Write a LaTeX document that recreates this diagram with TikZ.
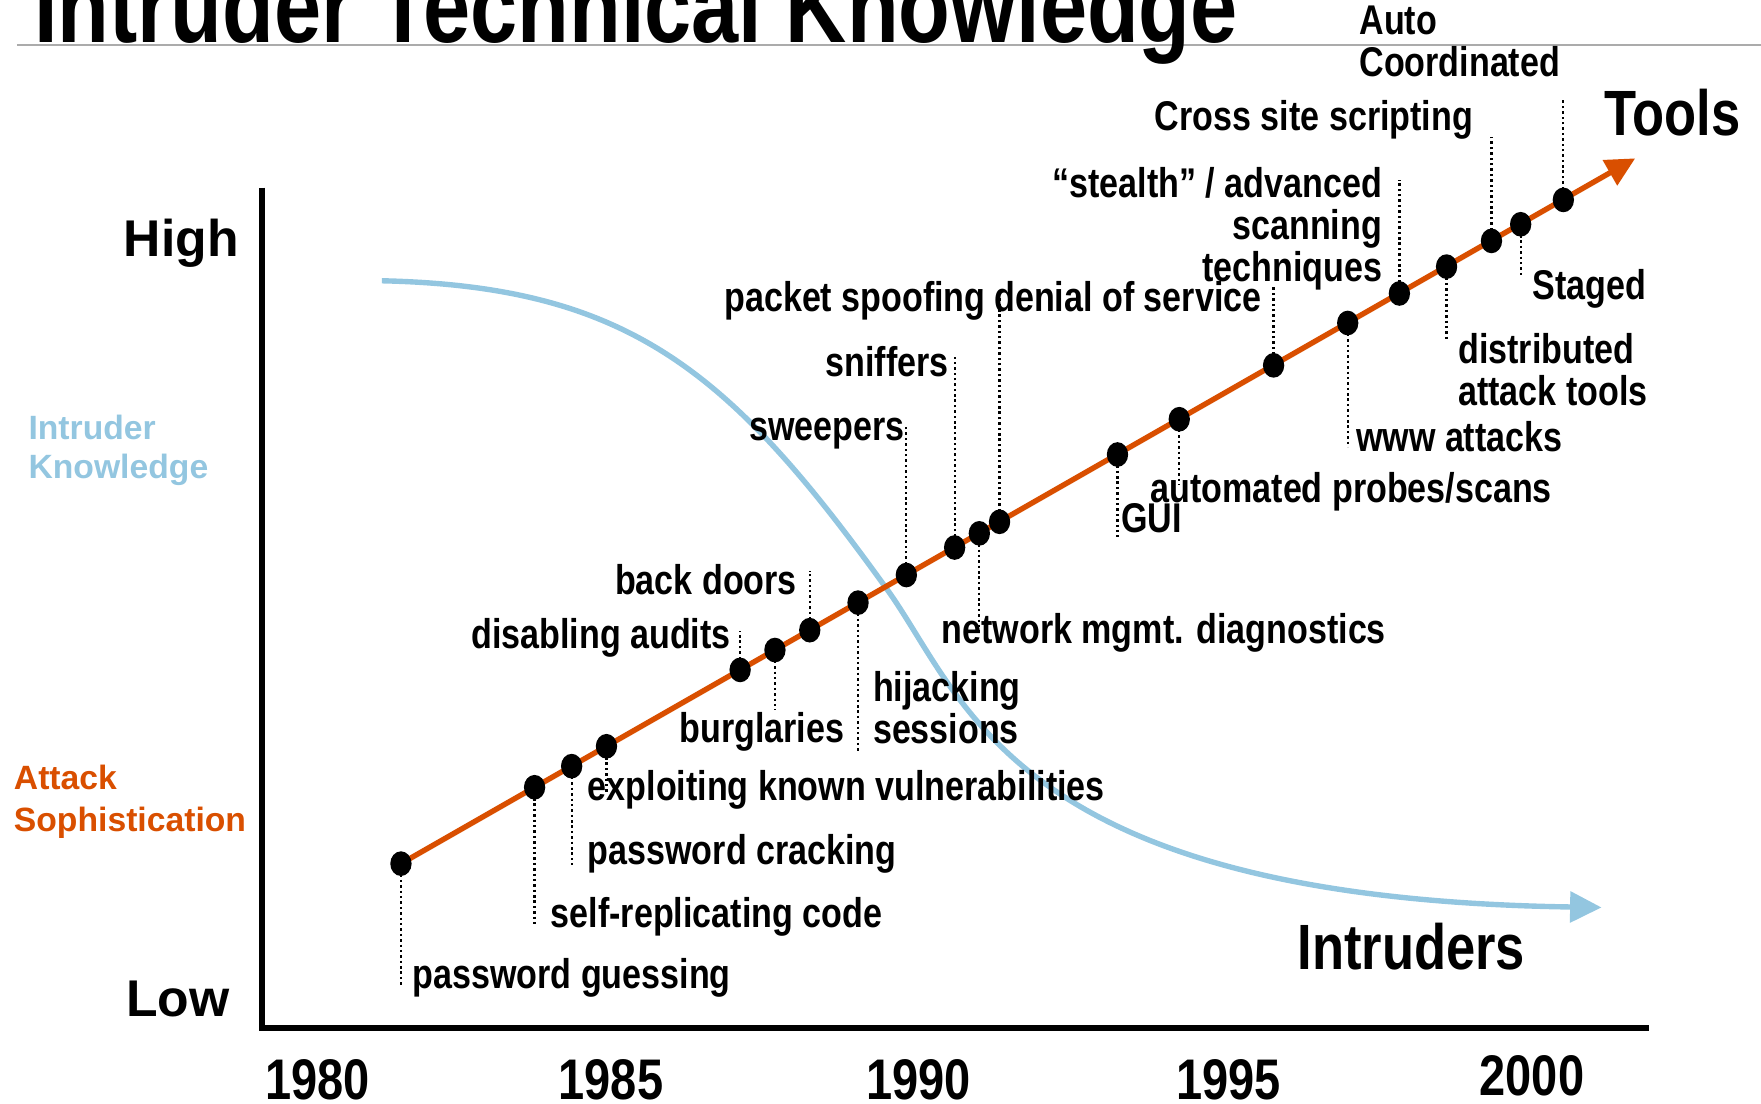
\documentclass[tikz,border=0pt]{standalone}
\usepackage{fontspec}
\setmainfont{Liberation Sans}
\newfontfamily\narrowfont[FakeStretch=0.82]{Liberation Sans}
\usetikzlibrary{arrows.meta,shapes.geometric,backgrounds}
\definecolor{atkorange}{HTML}{D94F00}
\definecolor{knowblue}{HTML}{93C6E0}
\definecolor{rulegray}{HTML}{ABABAB}

\begin{document}
\begin{tikzpicture}[
      x=0.5pt,y=-0.5pt,
      evt/.style={ellipse,fill=black,inner sep=0pt,minimum width=9.5pt,minimum height=11pt},
      lbl/.style={inner sep=0pt,font=\narrowfont\bfseries\fontsize{18.5}{18.7}\selectfont},
      big/.style={inner sep=0pt,font=\narrowfont\bfseries\fontsize{28.5}{28.5}\selectfont},
      yr/.style={inner sep=0pt,anchor=base,font=\narrowfont\bfseries\fontsize{25.5}{25.5}\selectfont},
      lvl/.style={inner sep=0pt,anchor=base west,font=\bfseries\fontsize{23}{23}\selectfont},
      leg/.style={inner sep=0pt,anchor=base west,align=left,font=\bfseries\fontsize{15}{18}\selectfont},
      lead/.style={line width=1pt,dash pattern=on 1.1pt off 1.3pt},
      atk/.style={line width=2.4pt,atkorange,-{Triangle[length=13pt,width=12.5pt]}},
      know/.style={line width=2.4pt,knowblue,-{Triangle[length=14pt,width=13.5pt]}},
      axis/.style={line width=2.6pt,black}
    ]
    \useasboundingbox (0,0) rectangle (1568,983);

    % title and rule
    \coordinate (ruleL) at (15,40);
    \coordinate (ruleR) at (1568,40);
    \draw[rulegray,line width=1pt] (ruleL) -- (ruleR);
    \node[inner sep=0pt,anchor=base west,font=\narrowfont\bfseries\fontsize{46}{46}\selectfont] (title) at (30,38) {Intruder Technical Knowledge};

    % axes
    \coordinate (yTop) at (233,167);
    \coordinate (origin) at (233,915);
    \coordinate (xEnd) at (1468,915);
    \draw[axis] (yTop) -- (origin) -- (xEnd);

    \node[lvl] (high) at (110,228) {High};
    \node[lvl] (low)  at (112,905) {Low};
    \node[leg,text=knowblue,font=\bfseries\fontsize{15}{17.5}\selectfont] (iklabel) at (25,426) {Intruder\\Knowledge};
    \node[leg,text=atkorange,font=\bfseries\fontsize{15}{18.5}\selectfont] (aslabel) at (12,740) {Attack\\Sophistication};

    \node[yr] (y80) at (283,979) {1980};
    \node[yr] (y85) at (544,979) {1985};
    \node[yr] (y90) at (818,979) {1990};
    \node[yr] (y95) at (1094,979) {1995};
    \node[yr] (y00) at (1364,975) {2000};

    \node[big,anchor=base west] (tools) at (1428,121) {Tools};
    \node[big,anchor=base west] (intruders) at (1155,863) {Intruders};

    % events on the sophistication line
    \node[evt] (d1)  at (357,769) {};
    \node[evt] (d2)  at (476,701) {};
    \node[evt] (d3)  at (509,682.2) {};
    \node[evt] (d4)  at (540,664.5) {};
    \node[evt] (d5)  at (659,596.5) {};
    \node[evt] (d6)  at (690,578.8) {};
    \node[evt] (d7)  at (721,561.1) {};
    \node[evt] (d8)  at (764,536.6) {};
    \node[evt] (d9)  at (807,512) {};
    \node[evt] (d10) at (850,487.5) {};
    \node[evt] (d11) at (872,474.9) {};
    \node[evt] (d12) at (890,464.6) {};
    \node[evt] (d13) at (995,404.7) {};
    \node[evt] (d14) at (1050,373.3) {};
    \node[evt] (d15) at (1134,325.3) {};
    \node[evt] (d16) at (1200,287.6) {};
    \node[evt] (d17) at (1246,261.3) {};
    \node[evt] (d18) at (1288,237.4) {};
    \node[evt] (d19) at (1328,214.5) {};
    \node[evt] (d20) at (1354,199.7) {};
    \node[evt] (d21) at (1392,178) {};
    \coordinate (tooltip) at (1456,141);

    % ends of the leader lines
    \coordinate (e1)  at (357,878);
    \coordinate (e2)  at (476,823);
    \coordinate (e3)  at (509,770);
    \coordinate (e4)  at (540,705);
    \coordinate (e5)  at (659,562);
    \coordinate (e6)  at (690,632);
    \coordinate (e7)  at (721,508);
    \coordinate (e8)  at (764,670);
    \coordinate (e9)  at (807,378);
    \coordinate (e10) at (850,318);
    \coordinate (e11) at (872,565);
    \coordinate (e12) at (890,262);
    \coordinate (e13) at (995,478);
    \coordinate (e14) at (1050,432);
    \coordinate (e15) at (1134,255);
    \coordinate (e16) at (1200,398);
    \coordinate (e17) at (1246,160);
    \coordinate (e18) at (1288,302);
    \coordinate (e19) at (1328,122);
    \coordinate (e20) at (1354,245);
    \coordinate (e21) at (1392,88);

    % labels (multi-line ones sit on their last baseline)
    \node[lbl,anchor=base west] (l1)  at (367,880) {password guessing};
    \node[lbl,anchor=base west] (l2)  at (490,826) {self-replicating code};
    \node[lbl,anchor=base west] (l3)  at (523,770) {password cracking};
    \node[lbl,anchor=base west] (l4)  at (523,713) {exploiting known vulnerabilities};
    \node[lbl,anchor=base east] (l5)  at (651,577) {disabling audits};
    \node[lbl,anchor=base east] (l6)  at (752,661) {burglaries};
    \node[lbl,anchor=base east] (l7)  at (710,529) {back doors};
    \node[lbl,anchor=base west,align=left] (l8) at (777,662) {hijacking\\sessions};
    \node[lbl,anchor=base east] (l9)  at (806,392) {sweepers};
    \node[lbl,anchor=base east] (l10) at (845,335) {sniffers};
    \node[lbl,anchor=base west] (l11) at (838,573) {network mgmt. diagnostics};
    \node[lbl,anchor=base east] (l12) at (878,277) {packet spoofing};
    \node[lbl,anchor=base west] (l12b) at (885,277) {denial of service};
    \node[lbl,anchor=base west] (l13) at (998,474) {GUI};
    \node[lbl,anchor=base west] (l14) at (1024,447) {automated probes/scans};
    \node[lbl,anchor=base east,align=right] (l17) at (1231,251) {“stealth” / advanced\\scanning\\techniques};
    \node[lbl,anchor=base west] (l16) at (1207,402) {www attacks};
    \node[lbl,anchor=base west,align=left] (l18) at (1298,361) {distributed\\attack tools};
    \node[lbl,anchor=base east] (l19) at (1312,116) {Cross site scripting};
    \node[lbl,anchor=base west] (l20) at (1364,267) {Staged};
    \node[lbl,anchor=base west,align=left] (l21) at (1210,68) {Auto\\Coordinated};

    % intruder knowledge curve
    \coordinate (kstart) at (340,250);
    \coordinate (kmid) at (790,525);
    \coordinate (kend) at (1426,808);

    \begin{scope}[on background layer]
      \draw[know] (kstart) .. controls (560,255) and (650,330) .. (kmid)
                           .. controls (860,622.5) and (900,800) .. (kend);
      \draw[atk] (d1.center) -- (tooltip);
      \foreach \i in {1,...,21}
        \draw[lead] (d\i.center) -- (e\i);
    \end{scope}

  \end{tikzpicture}
\end{document}
